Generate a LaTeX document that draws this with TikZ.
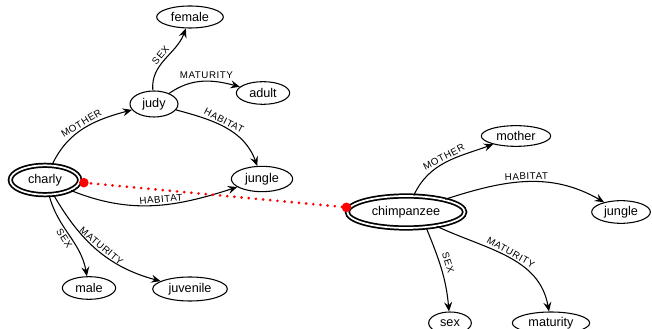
\documentclass[tikz,border=0pt]{standalone}
\usepackage{fontspec}
\setmainfont{Liberation Sans}
\newfontfamily\lblfont[LetterSpace=6]{Liberation Sans}
\usetikzlibrary{shapes.geometric, arrows.meta, positioning}

\begin{document}
\begin{tikzpicture}[
    x=0.75pt, y=0.75pt,
    every node/.style={font=\fontsize{9.5}{11}\selectfont},
    val/.style={ellipse, draw, line width=0.8pt, inner sep=0pt},
    focus/.style={ellipse, draw, line width=1.3pt, double, double distance=1.3pt, inner sep=0pt},
    rel/.style={draw, line width=0.8pt, -{Stealth[length=7pt, width=6pt, inset=2.5pt]}},
    lbl/.style={font=\lblfont\fontsize{7.3}{8}\selectfont, sloped, inner sep=1.3pt},
    link/.style={draw=red, line width=2.2pt, line cap=round, dash pattern=on 0pt off 5.4pt},
]
\useasboundingbox (0,0) rectangle (652,328);

% left graph
\node[focus, minimum width=52pt, minimum height=22pt] (charly) at (45,148) {charly};
\node[val, minimum width=36pt, minimum height=19.5pt] (judy) at (154,224) {judy};
\node[val, minimum width=50pt, minimum height=16.5pt] (female) at (190,311) {female};
\node[val, minimum width=40pt, minimum height=17pt] (adult) at (263,235) {adult};
\node[val, minimum width=46pt, minimum height=19pt] (jungleA) at (262,149) {jungle};
\node[val, minimum width=40pt, minimum height=17pt] (male) at (89,40) {male};
\node[val, minimum width=56pt, minimum height=18pt] (juvenile) at (190,39) {juvenile};

% right graph
\node[focus, minimum width=88pt, minimum height=24pt] (chimp) at (406,116) {chimpanzee};
\node[val, minimum width=52pt, minimum height=15.5pt] (mother) at (516,192) {mother};
\node[val, minimum width=44pt, minimum height=17pt] (jungleB) at (621,116) {jungle};
\node[val, minimum width=32pt, minimum height=16.5pt] (sex) at (450,5) {sex};
\node[val, minimum width=58pt, minimum height=16.5pt] (maturity) at (551,5) {maturity};

% relations
\draw[rel] (charly) to[out=65, in=195] node[lbl, above] {MOTHER} (judy);
\draw[rel] (judy) to[out=95, in=250] node[lbl, above] {SEX} (female);
\draw[rel] (judy) to[out=35, in=165] node[lbl, above, pos=0.55] {MATURITY} (adult);
\draw[rel] (judy) to[out=-15, in=110] node[lbl, above, pos=0.45] {HABITAT} (jungleA);
\draw[rel] (charly) to[out=-22, in=198] node[lbl, above, pos=0.55] {HABITAT} (jungleA);
\draw[rel] (charly) to[out=-75, in=100] node[lbl, below, pos=0.5] {SEX} (male);
\draw[rel] (charly) to[out=-60, in=165] node[lbl, above, pos=0.5] {MATURITY} (juvenile);

\draw[rel] (chimp) to[out=65, in=200] node[lbl, above] {MOTHER} (mother);
\draw[rel] (chimp) to[out=18, in=150] node[lbl, above] {HABITAT} (jungleB);
\draw[rel] (chimp.-38) to[out=-68, in=95] node[lbl, above=2pt, pos=0.45] {SEX} (sex);
\draw[rel] (chimp) to[out=-25, in=100] node[lbl, above, pos=0.5] {MATURITY} (maturity);

% mapping
\coordinate (pa) at ([xshift=2.5pt, yshift=-2pt]charly.east);
\coordinate (pb) at ([yshift=3.5pt]chimp.west);
\draw[link] (pa) -- (pb);
\fill[red] (pa) circle (3.6pt);
\fill[red] (pb) circle (3.6pt);

\end{tikzpicture}
\end{document}
